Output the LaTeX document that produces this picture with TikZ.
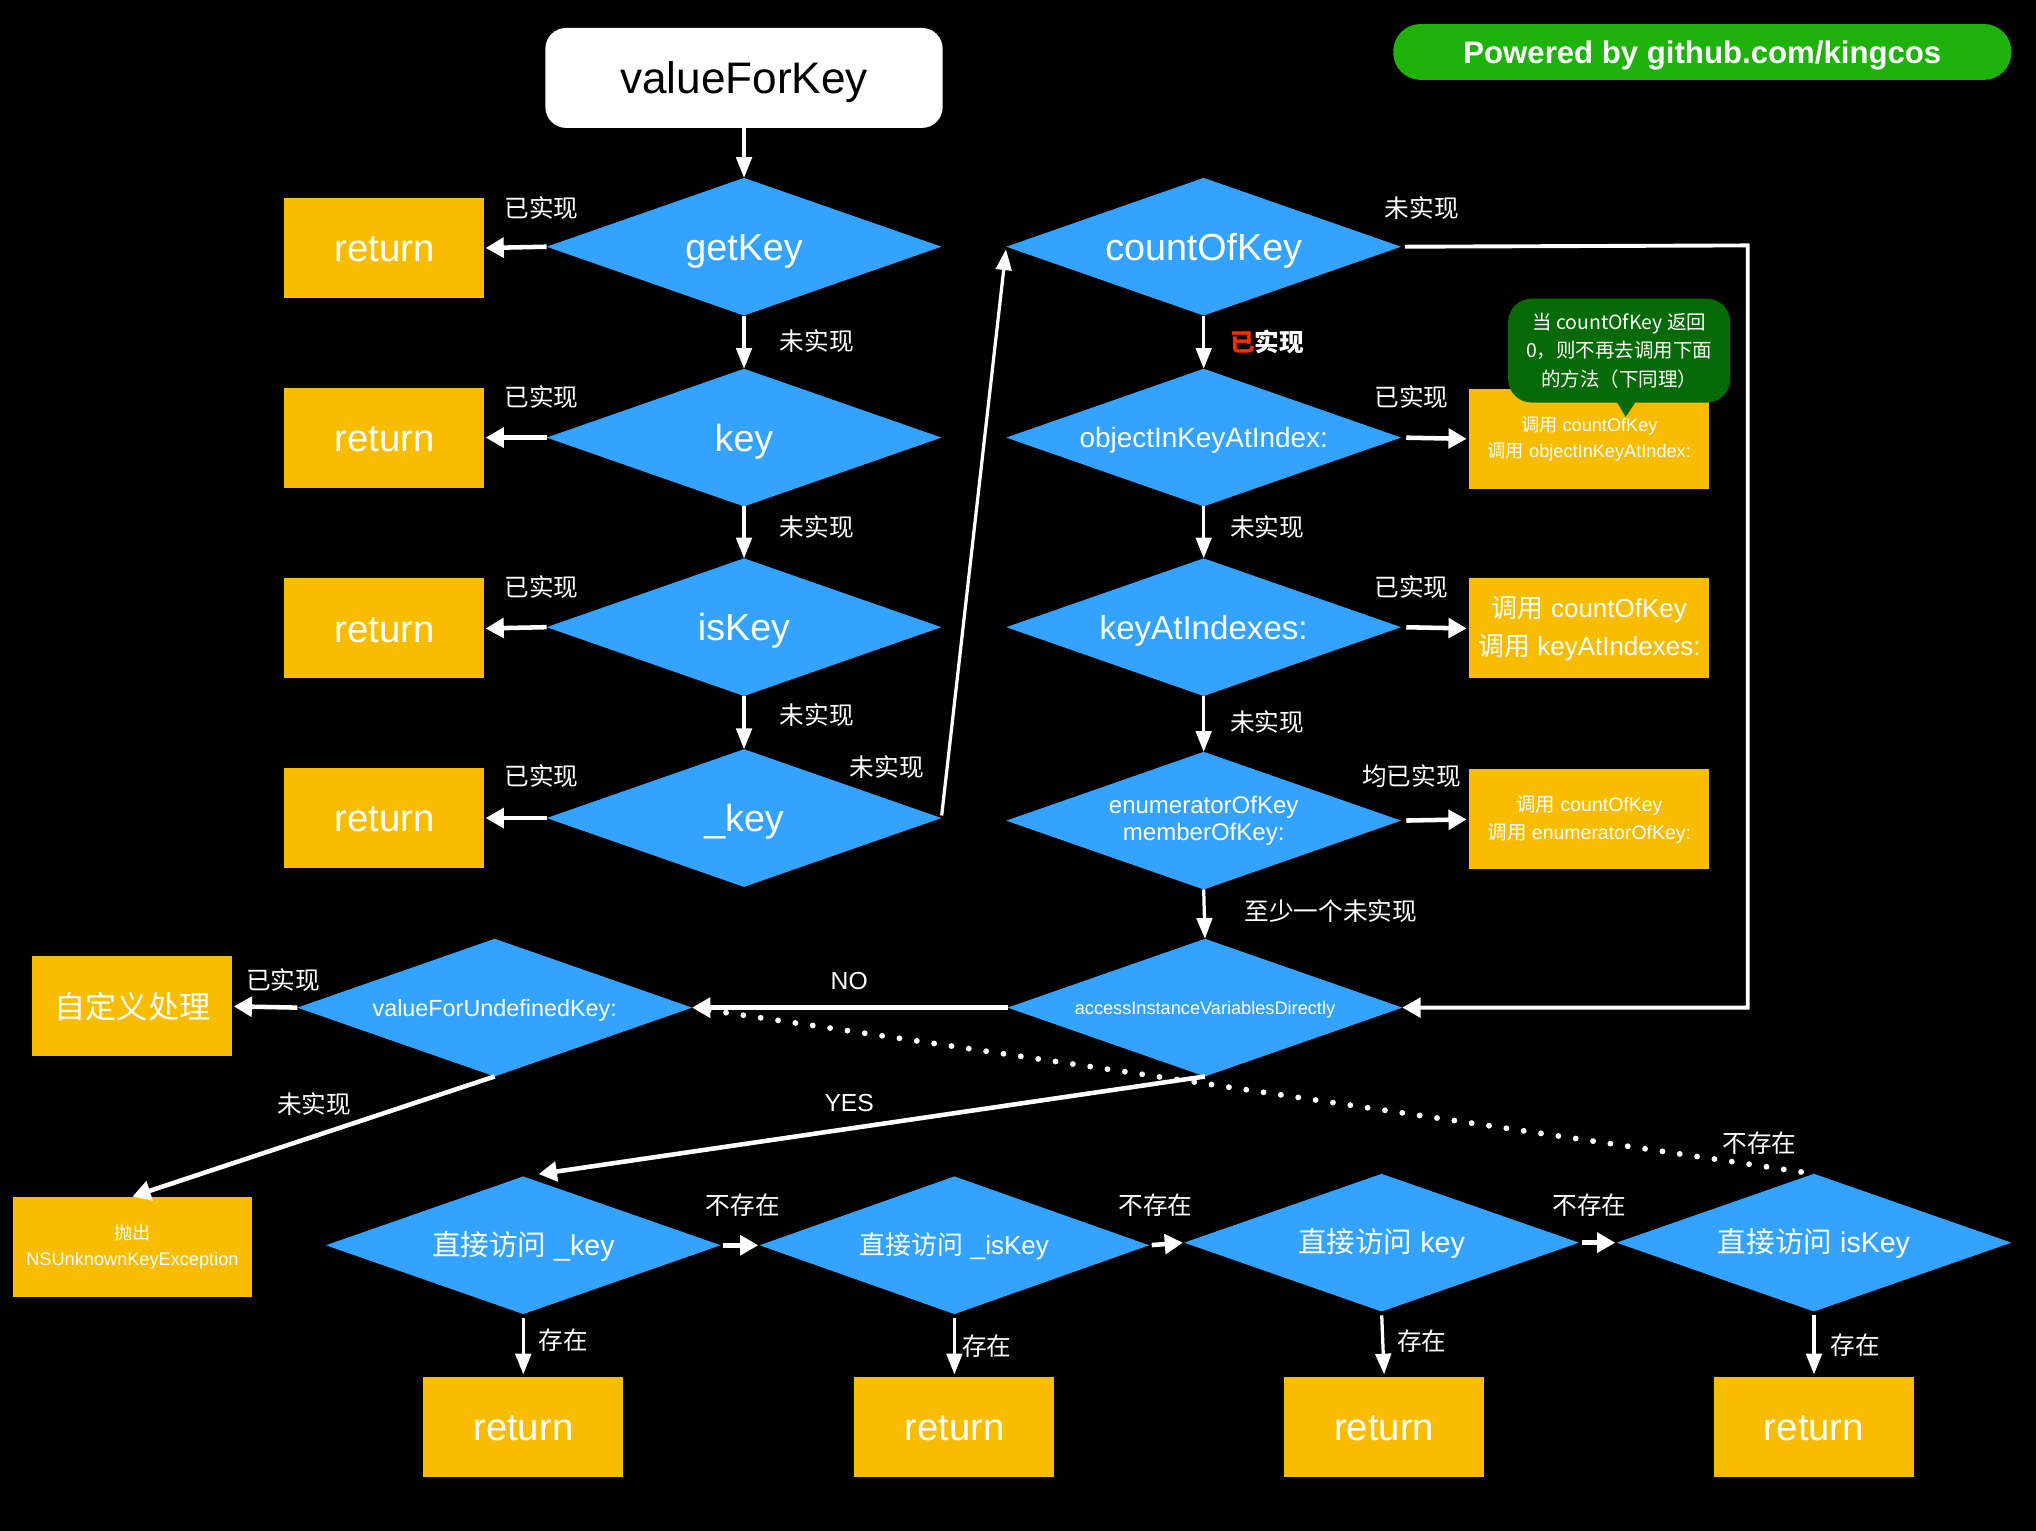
\documentclass[tikz,border=0pt]{standalone}
\usepackage{fontspec}
\setmainfont{Liberation Sans}
\newfontfamily\cjk{Noto Sans CJK SC}
\usetikzlibrary{shapes.geometric,arrows.meta,calc}
\definecolor{kblue}{HTML}{33A3FF}
\definecolor{kyellow}{HTML}{F8BC00}
\definecolor{kgreen}{HTML}{1EB20A}
\definecolor{kdgreen}{HTML}{066B06}
\definecolor{kred}{HTML}{FF2A00}
\newcommand\tc[1]{\raisebox{0pt}[0.72em][0pt]{#1}}
\begin{document}
\begin{tikzpicture}[x=1pt,y=-1pt,
  diam/.style={diamond, fill=kblue, text=white, inner sep=0pt, outer sep=0pt,
    minimum width=304pt, minimum height=106pt, shape aspect=2.87, align=center},
  retbox/.style={rectangle, fill=kyellow, text=white, inner sep=0pt, outer sep=0pt,
    minimum width=154pt, minimum height=77pt, align=center, font=\fontsize{29.5}{34}\selectfont},
  callbox/.style={rectangle, fill=kyellow, text=white, inner sep=0pt, outer sep=0pt,
    minimum width=185pt, minimum height=77pt, align=center},
  lbl/.style={text=white, inner sep=0pt, font=\cjk\fontsize{19}{22}\selectfont},
  tarr/.style={draw=white, line width=2.5pt, -{Triangle[length=16pt,width=12pt]}},
  karr/.style={draw=white, line width=3.5pt, -{Triangle[length=14pt,width=15pt]}},
  dotline/.style={draw=white, line width=4.5pt, line cap=round, dash pattern=on 0pt off 13.5pt}
]
\fill[black] (0,0) rectangle (1568,1179);
\useasboundingbox (0,0) rectangle (1568,1179);

% title and banner
\node[rectangle, rounded corners=16pt, fill=white, minimum width=306pt, minimum height=77pt, inner sep=0pt, outer sep=0pt,
  font=\fontsize{34}{40}\selectfont] (vfk) at (573,60) {\tc{valueForKey}};
\node[rectangle, rounded corners=21pt, fill=kgreen, text=white, minimum width=476pt, minimum height=43pt, inner sep=0pt,
  font=\bfseries\fontsize{24}{28}\selectfont] (pow) at (1311,40) {\tc{Powered by github.com/kingcos}};

% left column
\node[diam, font=\fontsize{29}{34}\selectfont] (g1) at (573,190) {\tc{getKey}};
\node[diam, font=\fontsize{29}{34}\selectfont] (g2) at (573,337) {\tc{key}};
\node[diam, font=\fontsize{29}{34}\selectfont] (g3) at (573,483) {\tc{isKey}};
\node[diam, font=\fontsize{29}{34}\selectfont] (g4) at (573,630) {\tc{\_key}};

\node[retbox] (r1) at (296,191) {\tc{return}};
\node[retbox] (r2) at (296,337) {\tc{return}};
\node[retbox] (r3) at (296,484) {\tc{return}};
\node[retbox] (r4) at (296,630) {\tc{return}};

\draw[tarr] (vfk) -- (g1);
\draw[tarr] (g1.south) -- (g2.north);
\draw[tarr] (g2.south) -- (g3.north);
\draw[tarr] (g3.south) -- (g4.north);
\draw[karr, shorten >=1pt] (g1.west) -- (r1.east);
\draw[karr, shorten >=1pt] (g2.west) -- (r2.east);
\draw[karr, shorten >=1pt] (g3.west) -- (r3.east);
\draw[karr, shorten >=1pt] (g4.west) -- (r4.east);

\node[lbl] (l1) at (417,160) {已实现};
\node[lbl] (l2) at (417,306) {已实现};
\node[lbl] (l3) at (417,452) {已实现};
\node[lbl] (l4) at (417,598) {已实现};
\node[lbl] (l5) at (629,263) {未实现};
\node[lbl] (l6) at (629,406) {未实现};
\node[lbl] (l7) at (629,551) {未实现};
\node[lbl] (l8) at (683,591) {未实现};

% right column
\node[diam, font=\fontsize{29}{34}\selectfont] (c1) at (927,190) {\tc{countOfKey}};
\node[diam, font=\fontsize{21.5}{25}\selectfont] (c2) at (927,337) {\tc{objectInKeyAtIndex:}};
\node[diam, font=\fontsize{25.5}{30}\selectfont] (c3) at (927,483) {\tc{keyAtIndexes:}};
\node[diam, font=\fontsize{18.5}{21}\selectfont] (c4) at (927,632) {enumeratorOfKey\\memberOfKey:};
\node[diam, font=\fontsize{14}{17}\selectfont] (acc) at (928,776) {\tc{accessInstanceVariablesDirectly}};

\draw[tarr, shorten <=2pt, shorten >=2pt] (g4.east) -- (c1.west);
\draw[tarr] (c1.south) -- (c2.north);
\draw[tarr] (c2.south) -- (c3.north);
\draw[tarr] (c3.south) -- (c4.north);
\draw[tarr] (c4.south) -- (acc.north);

\node[callbox, font=\fontsize{14}{20}\selectfont] (b1) at (1224,338) {{\cjk 调用} countOfKey\\{\cjk 调用} objectInKeyAtIndex:};
\node[callbox, font=\fontsize{20}{29}\selectfont] (b2) at (1224,484) {{\cjk 调用} countOfKey\\{\cjk 调用} keyAtIndexes:};
\node[callbox, font=\fontsize{15}{22}\selectfont] (b3) at (1224,631) {{\cjk 调用} countOfKey\\{\cjk 调用} enumeratorOfKey:};

\draw[karr, shorten <=4pt, shorten >=2pt] (c2.east) -- (b1.west);
\draw[karr, shorten <=4pt, shorten >=2pt] (c3.east) -- (b2.west);
\draw[karr, shorten <=4pt, shorten >=2pt] (c4.east) -- (b3.west);

% callout
\node[rectangle, rounded corners=18pt, fill=kdgreen, text=white, minimum width=171pt, minimum height=80pt,
  inner sep=0pt, align=center, font=\cjk\fontsize{15}{22}\selectfont] (note) at (1247,270)
  {当 countOfKey 返回\\0，则不再去调用下面\\的方法（下同理）};
\fill[kdgreen] (1243,306) -- (1252,321) -- (1262,306) -- cycle;

\node[lbl] (m1) at (1095,160) {未实现};
\node[lbl, font=\cjk\bfseries\fontsize{19}{22}\selectfont] (m2) at (976,263) {{\color{kred}已}实现};
\node[lbl] (m3) at (976,406) {未实现};
\node[lbl] (m4) at (976,556) {未实现};
\node[lbl] (m5) at (1025,702) {至少一个未实现};
\node[lbl] (m6) at (1087,306) {已实现};
\node[lbl] (m7) at (1087,452) {已实现};
\node[lbl] (m8) at (1087,598) {均已实现};

\coordinate (loopR) at (1346,189);
\draw[draw=white, line width=3pt, -{Triangle[length=14pt,width=15pt]}, shorten <=3pt] (c1.east) -- (loopR) |- (acc.east);

% undefined key
\node[diam, font=\fontsize{18}{21}\selectfont] (vud) at (381,776) {\tc{valueForUndefinedKey:}};
\node[rectangle, fill=kyellow, text=white, minimum width=154pt, minimum height=77pt, inner sep=0pt, outer sep=0pt,
  font=\cjk\fontsize{24}{28}\selectfont] (cust) at (102,775) {自定义处理};
\node[rectangle, fill=kyellow, text=white, minimum width=184pt, minimum height=77pt, inner sep=0pt, outer sep=0pt,
  align=center, font=\fontsize{14}{20}\selectfont] (exc) at (102,960) {{\cjk 抛出}\\NSUnknownKeyException};

% bottom row
\node[diam, font=\fontsize{22}{26}\selectfont] (d1) at (403,959) {\tc{{\cjk 直接访问} \_key}};
\node[diam, font=\fontsize{20}{24}\selectfont, minimum width=300pt] (d2) at (735,959) {\tc{{\cjk 直接访问} \_isKey}};
\node[diam, font=\fontsize{22}{26}\selectfont] (d3) at (1064,957) {\tc{{\cjk 直接访问} key}};
\node[diam, font=\fontsize{22}{26}\selectfont] (d4) at (1397,957) {\tc{{\cjk 直接访问} isKey}};

\node[retbox] (s1) at (403,1099) {\tc{return}};
\node[retbox] (s2) at (735,1099) {\tc{return}};
\node[retbox] (s3) at (1066,1099) {\tc{return}};
\node[retbox] (s4) at (1397,1099) {\tc{return}};

\draw[dotline, shorten <=10pt] (d4.north) -- (vud.east);
\draw[karr] (acc.west) -- (vud.east);
\draw[karr, shorten >=1pt] (vud.west) -- (cust.east);
\draw[karr] (vud.south) -- (exc.north);
\draw[karr, shorten >=12pt] (acc.south) -- (d1.north);

\draw[karr, shorten <=2pt, shorten >=1pt] (d1.east) -- (d2.west);
\draw[karr, shorten <=2pt, shorten >=1pt] (d2.east) -- (d3.west);
\draw[karr, shorten <=2pt, shorten >=1pt] (d3.east) -- (d4.west);

\draw[tarr, shorten <=3pt, shorten >=2pt] (d1.south) -- (s1.north);
\draw[tarr, shorten <=3pt, shorten >=2pt] (d2.south) -- (s2.north);
\draw[tarr, shorten <=3pt, shorten >=2pt] (d3.south) -- (s3.north);
\draw[tarr, shorten <=3pt, shorten >=2pt] (d4.south) -- (s4.north);

\node[lbl, font=\fontsize{19}{22}\selectfont] (n1) at (654,755) {\tc{NO}};
\node[lbl, font=\fontsize{19}{22}\selectfont] (n2) at (654,849) {\tc{YES}};
\node[lbl] (n3) at (218,755) {已实现};
\node[lbl] (n4) at (242,850) {未实现};
\node[lbl] (n5) at (1355,880) {不存在};
\node[lbl] (n6) at (572,928) {不存在};
\node[lbl] (n7) at (890,928) {不存在};
\node[lbl] (n8) at (1224,928) {不存在};
\node[lbl] (n9) at (434,1032) {存在};
\node[lbl] (n10) at (760,1037) {存在};
\node[lbl] (n11) at (1095,1033) {存在};
\node[lbl] (n12) at (1429,1036) {存在};
\end{tikzpicture}
\end{document}
